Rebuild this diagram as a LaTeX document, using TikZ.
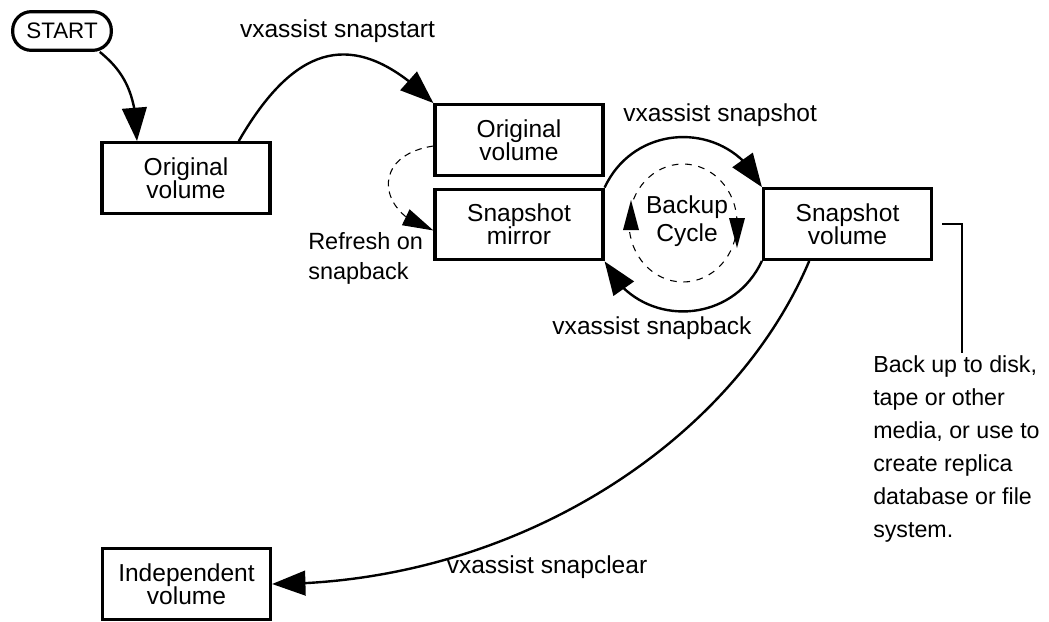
\documentclass[tikz,border=0pt]{standalone}
\usepackage{fontspec}
\setmainfont{Liberation Sans}
\usetikzlibrary{arrows.meta,bending}
\begin{document}
\lineskiplimit=-20pt
\begin{tikzpicture}[x=0.75pt,y=0.75pt,
  box/.style={draw, line width=2.4pt, minimum width=126pt, minimum height=53pt,
    align=center, inner sep=0pt,
    font=\fontsize{18.4}{17.25}\selectfont},
  lbl/.style={inner sep=0pt, font=\fontsize{18.4}{22}\selectfont},
  conn/.style={line width=1.8pt, -{Triangle[length=25pt,width=18.5pt]}},
  dconn/.style={line width=0.8pt, dash pattern=on 5pt off 4pt, -{Triangle[length=23pt,width=13pt]}},
  dcirc/.style={line width=0.8pt, dash pattern=on 5pt off 5pt},
]
\useasboundingbox (0,0) rectangle (1049,-621);

% nodes
\node[draw, line width=2.4pt, rounded corners=14pt, minimum width=74pt, minimum height=29pt,
  inner sep=0pt, font=\fontsize{16.8}{20}\selectfont] (start) at (62,-31) {START};
\node[box] (orig1) at (186,-178) {Original\\volume};
\node[box] (orig2) at (519,-140) {Original\\volume};
\node[box] (mirror) at (519,-224.5) {Snapshot\\mirror};
\node[box] (snapvol) at (847.5,-224) {Snapshot\\volume};
\node[box] (indep) at (186.5,-584) {Independent\\volume};

% labels
\node[lbl] (lstart) at (337.5,-31) {vxassist snapstart};
\node[lbl, anchor=west] (lshot) at (623,-115) {vxassist snapshot};
\node[lbl] (lback) at (652,-328) {vxassist snapback};
\node[lbl] (lclear) at (547,-567) {vxassist snapclear};
\node[inner sep=0pt, align=left, anchor=west, font=\fontsize{17.6}{22.5}\selectfont] (lrefresh) at (308,-258) {Refresh on\\snapback};
\node[inner sep=0pt, align=center, font=\fontsize{18.4}{21}\selectfont] (lcycle) at (687,-221) {Backup\\Cycle};
\node[anchor=north west, align=left, inner sep=0pt, font=\fontsize{17.4}{24.75}\selectfont] (note) at (873,-355)
  {Back up to disk,\\tape or other\\media, or use to\\create replica\\database or file\\system.};

% connectors
\draw[conn] (start.-29) .. controls +(22,-18) and +(0,50) .. (orig1.143);
\draw[conn] (orig1.35) .. controls +(55,95) and +(-80,80) .. (orig2.north west);
\draw[dconn] (orig2.184) .. controls +(-65,-10) and +(-55,15) .. (mirror.184);
\draw[conn] (mirror.north east) .. controls +(31,67) and +(-32,67) .. (snapvol.north west);
\draw[conn] (snapvol.south west) .. controls +(-31,-67) and +(31,-67) .. (mirror.south east);
\draw[conn] (snapvol.-136) .. controls +(-78,-184) and +(240,0) .. (indep.east);

% backup cycle dashed ellipse with arrowheads
\draw[dcirc] (683,-223) ellipse [x radius=54, y radius=59];
\fill (631,-200) -- (623,-230) -- (639,-230) -- cycle;
\fill (737,-248) -- (729,-218) -- (745,-218) -- cycle;

% bracket to note
\coordinate (bk) at (962,-353);
\draw[line width=1.5pt] ([xshift=6.75pt]snapvol.east) -| (bk);
\end{tikzpicture}
\end{document}
